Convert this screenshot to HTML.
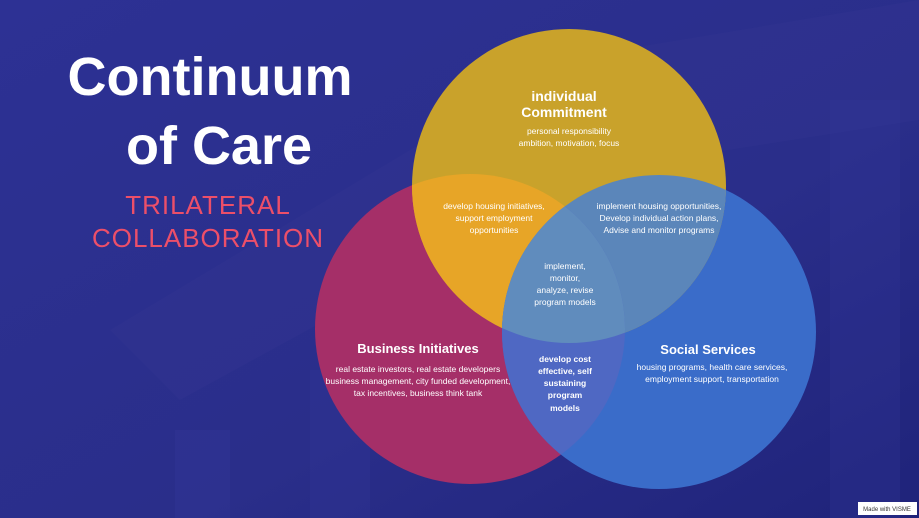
<!DOCTYPE html>
<html><head><meta charset="utf-8"><style>
html,body{margin:0;padding:0;width:919px;height:518px;overflow:hidden;background:#2b2f8e}
svg{display:block}
text{font-family:"Liberation Sans",sans-serif;fill:#fff}
</style></head><body>
<svg width="919" height="518" viewBox="0 0 919 518">
<defs>
<linearGradient id="bg" x1="0" y1="0" x2="1" y2="1">
<stop offset="0" stop-color="#2d3194"/><stop offset="0.6" stop-color="#2a2e8a"/><stop offset="1" stop-color="#1f237a"/>
</linearGradient>
<clipPath id="cy"><circle cx="569" cy="186" r="157"/></clipPath>
<clipPath id="cr"><circle cx="470" cy="329" r="155"/></clipPath>
</defs>
<rect width="919" height="518" fill="url(#bg)"/>
<path d="M110 330 L560 60 L919 0 L919 120 L600 170 L180 400 Z" fill="#3a3e98" opacity="0.2"/>
<rect x="175" y="430" width="55" height="88" fill="#34389a" opacity="0.3"/>
<rect x="310" y="370" width="60" height="148" fill="#34389a" opacity="0.25"/>
<rect x="830" y="100" width="70" height="418" fill="#34389a" opacity="0.25"/>
<circle cx="470" cy="329" r="155" fill="#a52f68"/>
<circle cx="659" cy="332" r="157" fill="#3a6cc9"/>
<circle cx="569" cy="186" r="157" fill="#c9a22b"/>
<g clip-path="url(#cy)"><circle cx="470" cy="329" r="155" fill="#e7a527"/></g>
<g clip-path="url(#cy)"><circle cx="659" cy="332" r="157" fill="#5b86ba"/></g>
<g clip-path="url(#cr)"><circle cx="659" cy="332" r="157" fill="#4f68c3"/></g>
<g clip-path="url(#cr)"><g clip-path="url(#cy)"><circle cx="659" cy="332" r="157" fill="#608cbd"/></g></g>

<text x="210" y="95" font-size="54" font-weight="bold" text-anchor="middle">Continuum</text>
<text x="219" y="164" font-size="54" font-weight="bold" text-anchor="middle">of Care</text>
<text x="208" y="214" font-size="26" style="fill:#ec4f69;letter-spacing:1px" text-anchor="middle">TRILATERAL</text>
<text x="208" y="247" font-size="26" style="fill:#ec4f69;letter-spacing:1px" text-anchor="middle">COLLABORATION</text>

<g text-anchor="middle">
<text x="564" y="101" font-size="14" font-weight="bold">individual</text>
<text x="564" y="117" font-size="14" font-weight="bold">Commitment</text>
<text x="569" y="134" font-size="8.5">personal responsibility</text>
<text x="569" y="146" font-size="8.5">ambition, motivation, focus</text>

<text x="494" y="209" font-size="8.5">develop housing initiatives,</text>
<text x="494" y="221" font-size="8.5">support employment</text>
<text x="494" y="233" font-size="8.5">opportunities</text>

<text x="659" y="209" font-size="8.5">implement housing opportunities,</text>
<text x="659" y="221" font-size="8.5">Develop individual action plans,</text>
<text x="659" y="233" font-size="8.5">Advise and monitor programs</text>

<text x="565" y="269" font-size="8.5">implement,</text>
<text x="565" y="281" font-size="8.5">monitor,</text>
<text x="565" y="293" font-size="8.5">analyze, revise</text>
<text x="565" y="305" font-size="8.5">program models</text>

<text x="418" y="353" font-size="13" font-weight="bold">Business Initiatives</text>
<text x="418" y="372" font-size="8.5">real estate investors, real estate developers</text>
<text x="418" y="384" font-size="8.5">business management, city funded development,</text>
<text x="418" y="396" font-size="8.5">tax incentives, business think tank</text>

<text x="708" y="354" font-size="13" font-weight="bold">Social Services</text>
<text x="712" y="370" font-size="8.5">housing programs, health care services,</text>
<text x="712" y="382" font-size="8.5">employment support, transportation</text>

<g font-size="8.5" font-weight="bold">
<text x="565" y="362">develop cost</text>
<text x="565" y="374">effective, self</text>
<text x="565" y="386">sustaining</text>
<text x="565" y="398">program</text>
<text x="565" y="411">models</text>
</g>
</g>
<rect x="858" y="502" width="59" height="13" fill="#fff"/>
<text x="887" y="511" font-size="6" text-anchor="middle" style="fill:#333">Made with VISME</text>
</svg>
</body></html>
